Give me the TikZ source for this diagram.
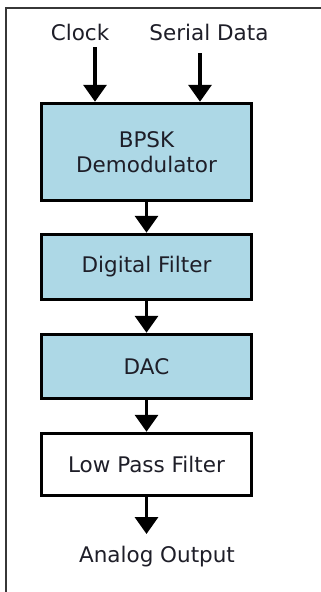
\documentclass[tikz,border=0pt]{standalone}
\usepackage{fontspec}
\setmainfont{DejaVu Sans}
\usetikzlibrary{arrows.meta}
\definecolor{boxblue}{RGB}{173,216,230}
\definecolor{inktext}{RGB}{30,30,40}
\definecolor{framegray}{RGB}{55,55,55}
\tikzset{
  block/.style={draw=black, line width=3.5pt, minimum width=210pt, text=inktext,
    font=\fontsize{21.5}{25}\selectfont, align=center, inner sep=0pt},
  blueblock/.style={block, fill=boxblue},
  label/.style={text=inktext, font=\fontsize{21.5}{25}\selectfont, inner sep=0pt},
  flow/.style={line width=3.5pt, -{Triangle[width=23pt,length=17pt]}}
}
\begin{document}
\begin{tikzpicture}[x=1pt,y=-1pt]
\useasboundingbox[fill=white] (0,0) rectangle (321,592);
% outer frame, top and left edges
\draw[framegray, line width=2pt] (6,592) -- (6,8) -- (321,8);

\node[label] (clk) at (80,32) {Clock};
\node[label] (ser) at (209,32) {Serial Data};

\node[blueblock, minimum height=97pt] (bpsk) at (146.5,152) {BPSK\\Demodulator};
\node[blueblock, minimum height=65pt] (dig) at (146.5,267) {Digital Filter};
\node[blueblock, minimum height=64pt] (dac) at (146.5,366.5) {DAC};
\node[block, fill=white, minimum height=62pt] (lpf) at (146.5,464.5) {Low Pass Filter};
\node[label] (out) at (157,557) {Analog Output};

\coordinate (clkin) at (95,47);
\coordinate (serin) at (200,53);
\coordinate (outend) at (146.5,534);

\draw[flow] (clkin) -- (clkin |- bpsk.north);
\draw[flow] (serin) -- (serin |- bpsk.north);
\draw[flow] (bpsk) -- (dig);
\draw[flow] (dig) -- (dac);
\draw[flow] (dac) -- (lpf);
\draw[flow] (lpf) -- (outend);
\end{tikzpicture}
\end{document}
